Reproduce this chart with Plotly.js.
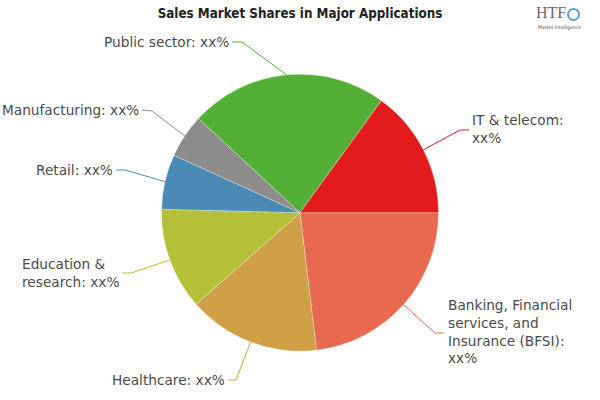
<!DOCTYPE html>
<html>
<head>
<meta charset="utf-8">
<script src="https://cdn.plot.ly/plotly-3.0.1.min.js"></script>
<style>html,body{margin:0;padding:0;background:#fff}#chart{width:600px;height:400px}</style>
</head>
<body>
<div id="chart"></div>
<script>
// Data (clockwise from 3 o'clock)
const categories = ["Banking, Financial services, and Insurance (BFSI)", "Healthcare", "Education & research", "Retail", "Manufacturing", "Public sector", "IT & telecom"];
const shares = [23.1, 15.4, 11.9, 6.4, 5.1, 23.1, 15.0];
const labelTexts = ["Banking, Financial<br>services, and<br>Insurance (BFSI):<br>xx%", "Healthcare: xx%", "Education &<br>research: xx%", "Retail: xx%", "Manufacturing: xx%", "Public sector: xx%", "IT & telecom:<br>xx%"];
const colors = ["#E8694F", "#CFA046", "#B4BF3A", "#4A8AB4", "#8C8C8C", "#54AF36", "#E31B1D"];

// Layout constants (pixels)
const W = 600, H = 400;
const cx = 300, cy = 212.7, R = 138.5;
const rotation = 90;
const labelPos = [
  {tx: 446, ty: 331, xa: "left",  knee: [435, 333], end: [444, 333]},
  {tx: 227, ty: 380, xa: "right", knee: [236, 380], end: [228, 380]},
  {tx: 121, ty: 273, xa: "right", knee: [131, 273], end: [122, 273]},
  {tx: 115, ty: 170, xa: "right", knee: [125, 170], end: [116, 170]},
  {tx: 141, ty: 110, xa: "right", knee: [152, 111], end: [142, 110]},
  {tx: 231, ty: 42,  xa: "right", knee: [242, 42],  end: [232, 42]},
  {tx: 470, ty: 129, xa: "left",  knee: [460, 130], end: [469, 130]}
];

const px = x => x / W;
const py = y => 1 - y / H;

const total = shares.reduce((a, b) => a + b, 0);
let cum = 0;
const shapes = [], annotations = [];
shares.forEach((v, i) => {
  const mid = rotation + (cum + v / 2) / total * 360;
  cum += v;
  const a = mid * Math.PI / 180;
  const ex = cx + R * Math.sin(a), ey = cy - R * Math.cos(a);
  const L = labelPos[i];
  shapes.push({
    type: "path", xref: "paper", yref: "paper",
    path: `M ${px(ex)},${py(ey)} L ${px(L.knee[0])},${py(L.knee[1])} L ${px(L.end[0])},${py(L.end[1])}`,
    line: {color: colors[i], width: 1}
  });
  annotations.push({
    xref: "paper", yref: "paper", x: px(L.tx), y: py(L.ty),
    xanchor: L.xa, yanchor: "middle", align: "left", showarrow: false,
    text: labelTexts[i],
    font: {family: "DejaVu Sans", size: 13.7, color: "#4a4a4a"}
  });
});

// logo
annotations.push({xref: "paper", yref: "paper", x: px(551), y: py(13), xanchor: "center", yanchor: "middle",
  showarrow: false, text: "HTF", font: {family: "Liberation Serif", size: 16, color: "#6a6a6a"}});
annotations.push({xref: "paper", yref: "paper", x: px(559), y: py(27), xanchor: "center", yanchor: "middle",
  showarrow: false, text: "Market Intelligence", font: {family: "DejaVu Sans Condensed", size: 5, color: "#555"}});
shapes.push({type: "circle", xref: "paper", yref: "paper", x0: px(568), y0: py(9), x1: px(579), y1: py(20),
  line: {color: "#5FA0D0", width: 2}, fillcolor: "rgba(0,0,0,0)"});

const data = [{
  type: "pie",
  labels: categories,
  values: shares,
  sort: false,
  direction: "clockwise",
  rotation: rotation,
  textinfo: "none",
  hoverinfo: "label+percent",
  marker: {colors: colors, line: {color: "rgba(255,255,255,0.5)", width: 0.6}},
  domain: {x: [px(cx - R), px(cx + R)], y: [py(cy + R), py(cy - R)]},
  showlegend: false
}];

const layout = {
  width: W, height: H,
  margin: {l: 0, r: 0, t: 0, b: 0},
  paper_bgcolor: "#fff",
  title: {text: "<b>Sales Market Shares in Major Applications</b>", x: 0.5, xref: "paper", y: py(13), yref: "container",
    xanchor: "center", yanchor: "middle",
    font: {family: "DejaVu Sans Condensed", size: 13.3, color: "#222"}},
  shapes: shapes,
  annotations: annotations,
  showlegend: false
};

Plotly.newPlot("chart", data, layout, {displayModeBar: false, staticPlot: true});
</script>
</body>
</html>
